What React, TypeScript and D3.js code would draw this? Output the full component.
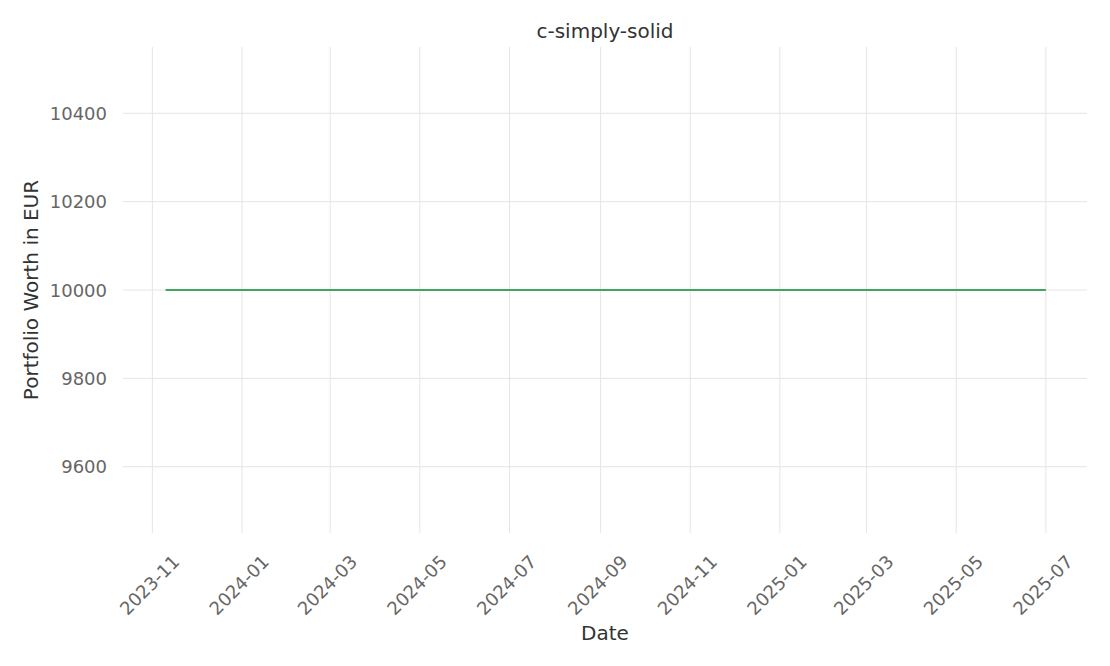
import React from "react";
import * as d3 from "d3";

// daily portfolio snapshots (value never moves)
const dates = [
  "2023-11-10", "2024-01-01", "2024-03-01", "2024-05-01", "2024-07-01",
  "2024-09-01", "2024-11-01", "2025-01-01", "2025-03-01", "2025-05-01",
  "2025-07-01",
];
const worth = [
  10000, 10000, 10000, 10000, 10000, 10000, 10000, 10000, 10000, 10000, 10000,
];
const yTicks = [9600, 9800, 10000, 10200, 10400];
const xTickMonths = [
  "2023-11-01", "2024-01-01", "2024-03-01", "2024-05-01", "2024-07-01",
  "2024-09-01", "2024-11-01", "2025-01-01", "2025-03-01", "2025-05-01",
  "2025-07-01",
];

const W = 1110;
const H = 666;
const margin = { left: 123, right: 23, top: 47, bottom: 133 };
const font = "'DejaVu Sans', sans-serif";

const parse = d3.utcParse("%Y-%m-%d");
const fmt = d3.utcFormat("%Y-%m");

const App: React.FC = () => {
  const x = d3
    .scaleUtc()
    .domain([parse("2023-10-12")!, parse("2025-07-29")!])
    .range([margin.left, W - margin.right]);
  const y = d3
    .scaleLinear()
    .domain([9450, 10550])
    .range([H - margin.bottom, margin.top]);

  const pts = dates.map((d, i) => ({ date: parse(d)!, value: worth[i] }));
  const line = d3
    .line<{ date: Date; value: number }>()
    .x((d) => x(d.date))
    .y((d) => y(d.value));

  const xt = xTickMonths.map((d) => parse(d)!);

  return (
    <div style={{ position: "fixed", left: 0, top: 0 }}>
      <svg width={W} height={H} style={{ display: "block", background: "#fff" }}>
        {yTicks.map((t) => (
          <line
            key={"gy" + t}
            x1={margin.left}
            x2={W - margin.right}
            y1={y(t)}
            y2={y(t)}
            stroke="#e5e5e5"
            strokeWidth={1}
          />
        ))}
        {xt.map((t, i) => (
          <line
            key={"gx" + i}
            x1={x(t)}
            x2={x(t)}
            y1={margin.top}
            y2={H - margin.bottom}
            stroke="#e5e5e5"
            strokeWidth={1}
          />
        ))}
        <path
          d={line(pts) || ""}
          fill="none"
          stroke="#42a65a"
          strokeWidth={2}
        />
        {yTicks.map((t) => (
          <text
            key={"ty" + t}
            x={margin.left - 16}
            y={y(t)}
            textAnchor="end"
            dominantBaseline="central"
            fontFamily={font}
            fontSize={18}
            fill="#666"
          >
            {t}
          </text>
        ))}
        {xt.map((t, i) => (
          <text
            key={"tx" + i}
            transform={`translate(${x(t) - 3},${H - margin.bottom + 52}) rotate(-45)`}
            textAnchor="middle"
            dominantBaseline="central"
            fontFamily={font}
            fontSize={18}
            fill="#666"
          >
            {fmt(t)}
          </text>
        ))}
        <text
          x={(margin.left + W - margin.right) / 2}
          y={31}
          textAnchor="middle"
          dominantBaseline="central"
          fontFamily={font}
          fontSize={20}
          fill="#333"
        >
          c-simply-solid
        </text>
        <text
          x={(margin.left + W - margin.right) / 2}
          y={633}
          textAnchor="middle"
          dominantBaseline="central"
          fontFamily={font}
          fontSize={20}
          fill="#333"
        >
          Date
        </text>
        <text
          transform={`translate(31,${(margin.top + H - margin.bottom) / 2}) rotate(-90)`}
          textAnchor="middle"
          dominantBaseline="central"
          fontFamily={font}
          fontSize={20}
          fill="#333"
        >
          Portfolio Worth in EUR
        </text>
      </svg>
    </div>
  );
};

export default App;
